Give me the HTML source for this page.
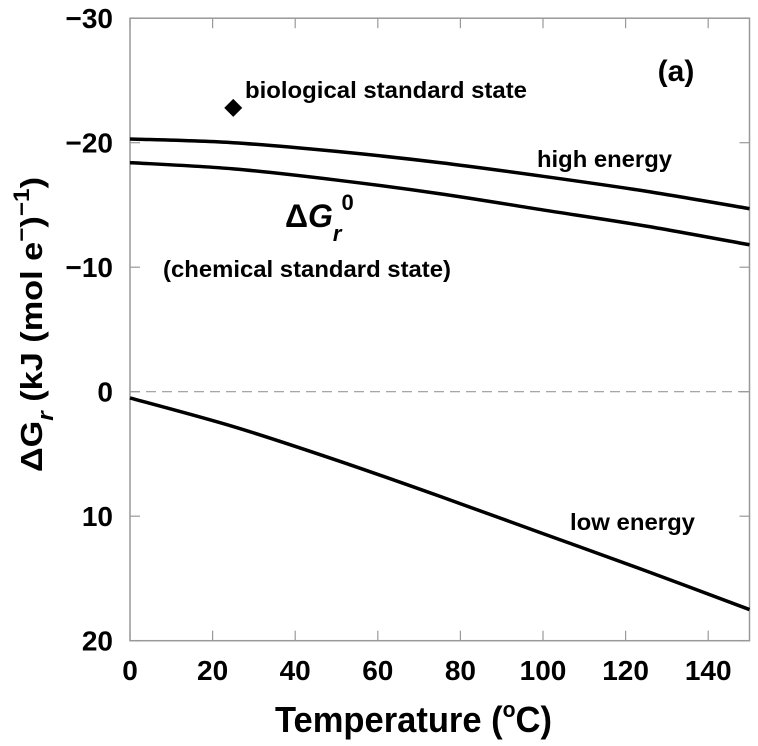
<!DOCTYPE html>
<html><head><meta charset="utf-8"><style>
body{margin:0;background:#fff;}
svg text{font-family:"Liberation Sans",Arial,sans-serif;font-weight:bold;fill:#000;}
</style></head><body>
<svg width="758" height="741" viewBox="0 0 758 741">
<g id="axes"></g><g id="series"></g>
<text x="245" y="98" font-size="23" textLength="282" lengthAdjust="spacingAndGlyphs">biological standard state</text>
<text x="676" y="81" font-size="30" text-anchor="middle">(a)</text>
<text x="537" y="167" font-size="23" textLength="135" lengthAdjust="spacingAndGlyphs">high energy</text>
<text x="570" y="530" font-size="23" textLength="125" lengthAdjust="spacingAndGlyphs">low energy</text>
<text x="285" y="227" font-size="32">Δ<tspan font-style="italic">G</tspan><tspan font-size="22" font-style="italic" dy="14">r</tspan><tspan font-size="22" dy="-31">0</tspan></text>
<text x="163" y="277" font-size="23" textLength="288" lengthAdjust="spacingAndGlyphs">(chemical standard state)</text>
<text x="275" y="732" font-size="36" textLength="277" lengthAdjust="spacingAndGlyphs">Temperature (<tspan font-size="22" dy="-15">o</tspan><tspan dy="15">C)</tspan></text>
<text transform="translate(42,472) rotate(-90)" font-size="31" textLength="295" lengthAdjust="spacingAndGlyphs">ΔG<tspan font-style="italic" font-size="22" dy="11">r</tspan><tspan dy="-11">  (kJ (mol e</tspan><tspan font-size="22" dy="-13">−</tspan><tspan dy="13">)</tspan><tspan font-size="22" dy="-13">−1</tspan><tspan dy="13">)</tspan></text>
</svg>
<script>
const xTicks=[0,20,40,60,80,100,120,140];
const yTicks=[-30,-20,-10,0,10,20];
const temps=[0,25,50,75,100,125,150];
const highEnergy=[-20.3,-20.0,-19.3,-18.4,-17.3,-16.1,-14.7];
const standardState=[-18.4,-17.9,-17.0,-15.9,-14.6,-13.3,-11.8];
const lowEnergy=[0.5,2.8,5.5,8.4,11.4,14.4,17.5];
const bioPoint={t:25,g:-22.8};
const NS="http://www.w3.org/2000/svg";
const X=v=>130+v*4.13, Y=v=>391.7+v*12.45;
const ax=document.getElementById('axes'), se=document.getElementById('series');
function mk(tag,attrs,parent){const e=document.createElementNS(NS,tag);for(const k in attrs)e.setAttribute(k,attrs[k]);parent.appendChild(e);return e;}
const fr=mk('rect',{x:X(0),y:Y(-30),width:X(150)-X(0),height:Y(20)-Y(-30),fill:'none',stroke:'#999','stroke-width':1.5},ax);


const zl=mk('line',{x1:X(0),x2:X(150),y1:Y(0),y2:Y(0),stroke:'#999','stroke-width':1.2,'stroke-dasharray':'10,6'},ax);


xTicks.forEach(t=>{
 mk('line',{x1:X(t),x2:X(t),y1:Y(20),y2:Y(20)-10,stroke:'#999','stroke-width':1.2},ax);
 mk('line',{x1:X(t),x2:X(t),y1:Y(-30),y2:Y(-30)+10,stroke:'#999','stroke-width':1.2},ax);
 const tx=mk('text',{x:X(t),y:680,'font-size':28,'text-anchor':'middle'},ax);tx.textContent=t;
 
 
});
yTicks.forEach(t=>{
 mk('line',{x1:X(0),x2:X(0)+10,y1:Y(t),y2:Y(t),stroke:'#999','stroke-width':1.2},ax);
 mk('line',{x1:X(150),x2:X(150)-10,y1:Y(t),y2:Y(t),stroke:'#999','stroke-width':1.2},ax);
 const tx=mk('text',{x:113,y:Y(t)+10,'font-size':28,'text-anchor':'end'},ax);tx.textContent=(t<0?'−':'')+Math.abs(t);
 
 
});
function line(vals,name){
 let d='';
 for(let i=0;i<temps.length-1;i++){
  const p0=[X(temps[Math.max(i-1,0)]),Y(vals[Math.max(i-1,0)])],p1=[X(temps[i]),Y(vals[i])],p2=[X(temps[i+1]),Y(vals[i+1])],p3=[X(temps[Math.min(i+2,temps.length-1)]),Y(vals[Math.min(i+2,temps.length-1)])];
  if(i===0)d+=`M${p1[0]},${p1[1]}`;
  d+=`C${p1[0]+(p2[0]-p0[0])/6},${p1[1]+(p2[1]-p0[1])/6} ${p2[0]-(p3[0]-p1[0])/6},${p2[1]-(p3[1]-p1[1])/6} ${p2[0]},${p2[1]}`;
 }
 const p=mk('path',{d,fill:'none',stroke:'#000','stroke-width':3.5},se);
 
 
}
line(highEnergy,'high-energy-line');
line(standardState,'standard-state-line');
line(lowEnergy,'low-energy-line');
const bx=X(bioPoint.t),by=Y(bioPoint.g);
const dm=mk('path',{d:`M${bx},${by-9}L${bx+9},${by}L${bx},${by+9}L${bx-9},${by}Z`,fill:'#000'},se);


</script>
</body></html>
